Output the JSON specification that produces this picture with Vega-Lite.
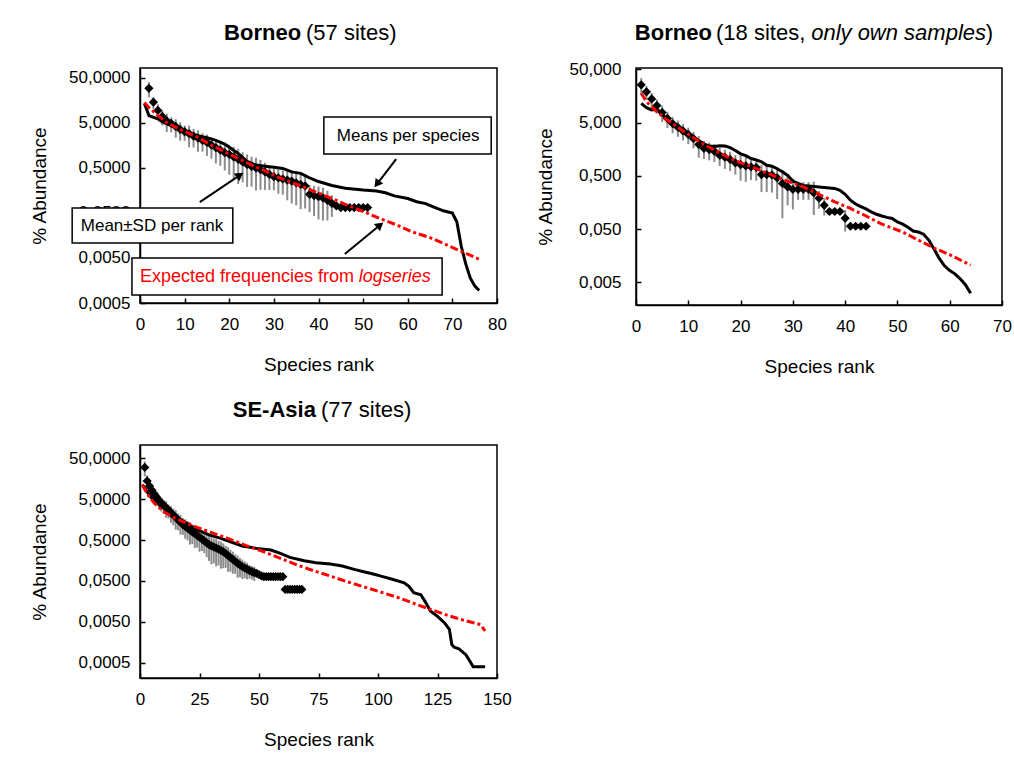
{
  "$schema": "https://vega.github.io/schema/vega-lite/v6.json",
  "autosize": {"type": "none"},
  "padding": {"left": 140, "top": 68, "right": 874, "bottom": 696},
  "background": "white",
  "config": {
    "font": "Liberation Sans",
    "view": {"stroke": "black", "strokeWidth": 1.5},
    "axis": {
      "grid": false,
      "domainColor": "black",
      "domainWidth": 1.5,
      "tickColor": "black",
      "tickWidth": 1.5,
      "tickSize": -5,
      "labelColor": "black",
      "labelFontSize": 17,
      "labelFlush": false,
      "labelOverlap": false,
      "titleColor": "black",
      "titleFontSize": 19,
      "titleFontWeight": "normal"
    },
    "axisX": {"labelPadding": 18, "titlePadding": 23},
    "axisY": {"labelPadding": 15, "titlePadding": 14}
  },
  "datasets": {
    "b57_rank": [
      {"rank": 2, "v": 29.5, "lo": 18.6, "hi": 40.4},
      {"rank": 3, "v": 14.5, "lo": 10.3, "hi": 18.7},
      {"rank": 4, "v": 9.5, "lo": 6.0, "hi": 13.0},
      {"rank": 5, "v": 7.0, "lo": 4.42, "hi": 9.58},
      {"rank": 6, "v": 5.6, "lo": 3.15, "hi": 8.05},
      {"rank": 7, "v": 4.9, "lo": 3.09, "hi": 6.71},
      {"rank": 8, "v": 4.2, "lo": 2.36, "hi": 6.04},
      {"rank": 9, "v": 3.6, "lo": 2.02, "hi": 5.18},
      {"rank": 10, "v": 3.2, "lo": 2.02, "hi": 4.38},
      {"rank": 11, "v": 2.9, "lo": 1.45, "hi": 4.35},
      {"rank": 12, "v": 2.55, "lo": 1.43, "hi": 3.67},
      {"rank": 13, "v": 2.3, "lo": 1.15, "hi": 3.45},
      {"rank": 14, "v": 2.05, "lo": 1.15, "hi": 2.95},
      {"rank": 15, "v": 1.85, "lo": 0.93, "hi": 2.77},
      {"rank": 16, "v": 1.62, "lo": 0.81, "hi": 2.43},
      {"rank": 17, "v": 1.42, "lo": 0.63, "hi": 2.21},
      {"rank": 18, "v": 1.25, "lo": 0.56, "hi": 1.94},
      {"rank": 19, "v": 1.1, "lo": 0.44, "hi": 1.76},
      {"rank": 20, "v": 1.0, "lo": 0.355, "hi": 1.645},
      {"rank": 21, "v": 0.88, "lo": 0.278, "hi": 1.48},
      {"rank": 22, "v": 0.78, "lo": 0.22, "hi": 1.34},
      {"rank": 23, "v": 0.68, "lo": 0.241, "hi": 1.12},
      {"rank": 24, "v": 0.6, "lo": 0.19, "hi": 1.01},
      {"rank": 25, "v": 0.54, "lo": 0.192, "hi": 0.888},
      {"rank": 26, "v": 0.5, "lo": 0.158, "hi": 0.842},
      {"rank": 27, "v": 0.46, "lo": 0.163, "hi": 0.757},
      {"rank": 28, "v": 0.41, "lo": 0.163, "hi": 0.657},
      {"rank": 29, "v": 0.36, "lo": 0.161, "hi": 0.559},
      {"rank": 30, "v": 0.32, "lo": 0.16, "hi": 0.48},
      {"rank": 31, "v": 0.3, "lo": 0.134, "hi": 0.466},
      {"rank": 32, "v": 0.285, "lo": 0.127, "hi": 0.443},
      {"rank": 33, "v": 0.27, "lo": 0.096, "hi": 0.444},
      {"rank": 34, "v": 0.255, "lo": 0.081, "hi": 0.429},
      {"rank": 35, "v": 0.235, "lo": 0.074, "hi": 0.396},
      {"rank": 36, "v": 0.215, "lo": 0.061, "hi": 0.369},
      {"rank": 37, "v": 0.2, "lo": 0.063, "hi": 0.337},
      {"rank": 38, "v": 0.13, "lo": 0.052, "hi": 0.208},
      {"rank": 39, "v": 0.122, "lo": 0.043, "hi": 0.2},
      {"rank": 40, "v": 0.115, "lo": 0.036, "hi": 0.194},
      {"rank": 41, "v": 0.108, "lo": 0.034, "hi": 0.182},
      {"rank": 42, "v": 0.095, "lo": 0.034, "hi": 0.156},
      {"rank": 43, "v": 0.082, "lo": 0.041, "hi": 0.123},
      {"rank": 44, "v": 0.072, "lo": 0.072, "hi": 0.072},
      {"rank": 45, "v": 0.066, "lo": 0.066, "hi": 0.066},
      {"rank": 46, "v": 0.066, "lo": 0.066, "hi": 0.066},
      {"rank": 47, "v": 0.066, "lo": 0.066, "hi": 0.066},
      {"rank": 48, "v": 0.066, "lo": 0.066, "hi": 0.066},
      {"rank": 49, "v": 0.066, "lo": 0.066, "hi": 0.066},
      {"rank": 50, "v": 0.066, "lo": 0.066, "hi": 0.066},
      {"rank": 51, "v": 0.066, "lo": 0.066, "hi": 0.066}
    ],
    "b57_species": [
      {"rank": 1, "v": 13.5}, {"rank": 2, "v": 7.3}, {"rank": 3, "v": 6.7}, {"rank": 4, "v": 6.2},
      {"rank": 5, "v": 5.3}, {"rank": 7, "v": 4.4}, {"rank": 9, "v": 3.6}, {"rank": 11, "v": 3.0},
      {"rank": 13, "v": 2.6}, {"rank": 15, "v": 2.36}, {"rank": 17, "v": 2.05}, {"rank": 19, "v": 1.7},
      {"rank": 20, "v": 1.45}, {"rank": 22, "v": 1.05}, {"rank": 24, "v": 0.7}, {"rank": 26, "v": 0.58},
      {"rank": 28, "v": 0.55}, {"rank": 30, "v": 0.52}, {"rank": 32, "v": 0.49}, {"rank": 34, "v": 0.41},
      {"rank": 36, "v": 0.38}, {"rank": 37, "v": 0.34}, {"rank": 38, "v": 0.3}, {"rank": 40, "v": 0.25},
      {"rank": 43, "v": 0.205}, {"rank": 46, "v": 0.177}, {"rank": 50, "v": 0.162}, {"rank": 53, "v": 0.154},
      {"rank": 55, "v": 0.141}, {"rank": 57, "v": 0.12}, {"rank": 60, "v": 0.105}, {"rank": 62, "v": 0.089},
      {"rank": 64, "v": 0.081}, {"rank": 66, "v": 0.067}, {"rank": 68, "v": 0.056}, {"rank": 70, "v": 0.05},
      {"rank": 71, "v": 0.032}, {"rank": 72, "v": 0.009}, {"rank": 73, "v": 0.0037}, {"rank": 74, "v": 0.0018},
      {"rank": 75, "v": 0.0012}, {"rank": 76, "v": 0.00095}
    ],
    "b57_logseries": [
      {"rank": 1, "v": 14.2}, {"rank": 2, "v": 11.0}, {"rank": 4, "v": 7.4}, {"rank": 6, "v": 5.1},
      {"rank": 9, "v": 3.6}, {"rank": 13, "v": 2.4}, {"rank": 16, "v": 1.6}, {"rank": 20, "v": 1.02},
      {"rank": 24, "v": 0.65}, {"rank": 28, "v": 0.43}, {"rank": 31, "v": 0.31}, {"rank": 35, "v": 0.22},
      {"rank": 39, "v": 0.152}, {"rank": 43, "v": 0.105}, {"rank": 46, "v": 0.078}, {"rank": 50, "v": 0.054},
      {"rank": 54, "v": 0.037}, {"rank": 58, "v": 0.026}, {"rank": 61, "v": 0.019}, {"rank": 65, "v": 0.0142},
      {"rank": 69, "v": 0.0095}, {"rank": 72, "v": 0.007}, {"rank": 76, "v": 0.0047}
    ],
    "b18_rank": [
      {"rank": 1, "v": 25.7, "lo": 17.0, "hi": 34.4},
      {"rank": 2, "v": 19, "lo": 13.5, "hi": 24.5},
      {"rank": 3, "v": 14, "lo": 9.9, "hi": 18.1},
      {"rank": 4, "v": 10.5, "lo": 7.4, "hi": 13.6},
      {"rank": 5, "v": 7.8, "lo": 5.16, "hi": 10.4},
      {"rank": 6, "v": 6.0, "lo": 3.97, "hi": 8.03},
      {"rank": 7, "v": 4.8, "lo": 3.17, "hi": 6.43},
      {"rank": 8, "v": 4.1, "lo": 2.71, "hi": 5.49},
      {"rank": 9, "v": 3.5, "lo": 2.31, "hi": 4.69},
      {"rank": 10, "v": 3.0, "lo": 1.98, "hi": 4.02},
      {"rank": 11, "v": 2.5, "lo": 1.65, "hi": 3.35},
      {"rank": 12, "v": 1.95, "lo": 1.1, "hi": 2.8},
      {"rank": 13, "v": 1.65, "lo": 1.04, "hi": 2.26},
      {"rank": 14, "v": 1.55, "lo": 0.98, "hi": 2.12},
      {"rank": 15, "v": 1.45, "lo": 0.91, "hi": 1.99},
      {"rank": 16, "v": 1.22, "lo": 0.77, "hi": 1.67},
      {"rank": 17, "v": 1.12, "lo": 0.675, "hi": 1.56},
      {"rank": 18, "v": 1.02, "lo": 0.615, "hi": 1.42},
      {"rank": 19, "v": 0.88, "lo": 0.53, "hi": 1.23},
      {"rank": 20, "v": 0.81, "lo": 0.406, "hi": 1.21},
      {"rank": 21, "v": 0.77, "lo": 0.386, "hi": 1.15},
      {"rank": 22, "v": 0.74, "lo": 0.416, "hi": 1.06},
      {"rank": 23, "v": 0.72, "lo": 0.405, "hi": 1.04},
      {"rank": 24, "v": 0.53, "lo": 0.248, "hi": 0.812},
      {"rank": 25, "v": 0.53, "lo": 0.248, "hi": 0.812},
      {"rank": 26, "v": 0.52, "lo": 0.243, "hi": 0.797},
      {"rank": 27, "v": 0.46, "lo": 0.183, "hi": 0.737},
      {"rank": 28, "v": 0.36, "lo": 0.08, "hi": 0.64},
      {"rank": 29, "v": 0.31, "lo": 0.139, "hi": 0.481},
      {"rank": 30, "v": 0.28, "lo": 0.117, "hi": 0.44},
      {"rank": 31, "v": 0.28, "lo": 0.177, "hi": 0.383},
      {"rank": 32, "v": 0.28, "lo": 0.177, "hi": 0.383},
      {"rank": 33, "v": 0.28, "lo": 0.177, "hi": 0.383},
      {"rank": 34, "v": 0.24, "lo": 0.092, "hi": 0.39},
      {"rank": 35, "v": 0.19, "lo": 0.12, "hi": 0.26},
      {"rank": 36, "v": 0.14, "lo": 0.09, "hi": 0.19},
      {"rank": 37, "v": 0.107, "lo": 0.107, "hi": 0.107},
      {"rank": 38, "v": 0.107, "lo": 0.107, "hi": 0.107},
      {"rank": 39, "v": 0.107, "lo": 0.107, "hi": 0.107},
      {"rank": 40, "v": 0.08, "lo": 0.045, "hi": 0.115},
      {"rank": 41, "v": 0.0565, "lo": 0.0565, "hi": 0.0565},
      {"rank": 42, "v": 0.0565, "lo": 0.0565, "hi": 0.0565},
      {"rank": 43, "v": 0.0565, "lo": 0.0565, "hi": 0.0565},
      {"rank": 44, "v": 0.0565, "lo": 0.0565, "hi": 0.0565}
    ],
    "b18_species": [
      {"rank": 1, "v": 11.5}, {"rank": 2, "v": 9.6}, {"rank": 3, "v": 8.7}, {"rank": 4, "v": 8.9},
      {"rank": 5, "v": 7.4}, {"rank": 6, "v": 5.5}, {"rank": 7, "v": 4.6}, {"rank": 8, "v": 3.9},
      {"rank": 9, "v": 3.5}, {"rank": 10, "v": 3.15}, {"rank": 11, "v": 2.7}, {"rank": 12, "v": 2.3},
      {"rank": 13, "v": 2.0}, {"rank": 14, "v": 1.82}, {"rank": 15, "v": 1.78}, {"rank": 16, "v": 1.84},
      {"rank": 17, "v": 1.82}, {"rank": 18, "v": 1.7}, {"rank": 19, "v": 1.5}, {"rank": 20, "v": 1.3},
      {"rank": 21, "v": 1.2}, {"rank": 22, "v": 1.06}, {"rank": 23, "v": 1.0}, {"rank": 24, "v": 0.92},
      {"rank": 25, "v": 0.79}, {"rank": 26, "v": 0.76}, {"rank": 27, "v": 0.68}, {"rank": 28, "v": 0.6},
      {"rank": 29, "v": 0.51}, {"rank": 30, "v": 0.4}, {"rank": 31, "v": 0.36}, {"rank": 32, "v": 0.33},
      {"rank": 34, "v": 0.317}, {"rank": 36, "v": 0.303}, {"rank": 38, "v": 0.29}, {"rank": 39, "v": 0.267},
      {"rank": 40, "v": 0.225}, {"rank": 41, "v": 0.175}, {"rank": 42, "v": 0.148}, {"rank": 43, "v": 0.132},
      {"rank": 44, "v": 0.12}, {"rank": 45, "v": 0.105}, {"rank": 46, "v": 0.095}, {"rank": 47, "v": 0.088},
      {"rank": 48, "v": 0.083}, {"rank": 49, "v": 0.079}, {"rank": 50, "v": 0.068}, {"rank": 51, "v": 0.062},
      {"rank": 52, "v": 0.054}, {"rank": 53, "v": 0.046}, {"rank": 54, "v": 0.044}, {"rank": 55, "v": 0.04},
      {"rank": 56, "v": 0.031}, {"rank": 57, "v": 0.021}, {"rank": 58, "v": 0.014}, {"rank": 59, "v": 0.0102},
      {"rank": 60, "v": 0.0083}, {"rank": 61, "v": 0.0072}, {"rank": 62, "v": 0.0058}, {"rank": 63, "v": 0.0045},
      {"rank": 64, "v": 0.0031}
    ],
    "b18_logseries": [
      {"rank": 1, "v": 17.9}, {"rank": 2, "v": 12.4}, {"rank": 4, "v": 8.0}, {"rank": 6, "v": 5.6},
      {"rank": 9, "v": 3.5}, {"rank": 13, "v": 1.95}, {"rank": 16, "v": 1.35}, {"rank": 19, "v": 0.96},
      {"rank": 22, "v": 0.75}, {"rank": 25, "v": 0.57}, {"rank": 28, "v": 0.43}, {"rank": 32, "v": 0.31},
      {"rank": 35, "v": 0.225}, {"rank": 38, "v": 0.163}, {"rank": 41, "v": 0.122}, {"rank": 44, "v": 0.088},
      {"rank": 47, "v": 0.062}, {"rank": 51, "v": 0.044}, {"rank": 54, "v": 0.031}, {"rank": 57, "v": 0.022},
      {"rank": 60, "v": 0.0165}, {"rank": 64, "v": 0.0105}
    ],
    "se_rank": [
      {"rank": 2, "v": 30, "lo": 18, "hi": 42},
      {"rank": 3, "v": 14, "lo": 8.8, "hi": 19.2},
      {"rank": 4, "v": 10.5, "lo": 6.6, "hi": 14.4},
      {"rank": 5, "v": 8.3, "lo": 5.2, "hi": 11.4},
      {"rank": 6, "v": 6.7, "lo": 4.2, "hi": 9.2},
      {"rank": 7, "v": 5.6, "lo": 3.5, "hi": 7.7},
      {"rank": 8, "v": 4.7, "lo": 3.0, "hi": 6.4},
      {"rank": 9, "v": 4.0, "lo": 2.5, "hi": 5.5},
      {"rank": 10, "v": 3.5, "lo": 2.2, "hi": 4.8},
      {"rank": 11, "v": 3.1, "lo": 1.74, "hi": 4.46},
      {"rank": 12, "v": 2.7, "lo": 1.7, "hi": 3.7},
      {"rank": 13, "v": 2.35, "lo": 1.32, "hi": 3.38},
      {"rank": 14, "v": 2.05, "lo": 1.15, "hi": 2.95},
      {"rank": 15, "v": 1.8, "lo": 0.9, "hi": 2.7},
      {"rank": 16, "v": 1.55, "lo": 0.87, "hi": 2.23},
      {"rank": 17, "v": 1.38, "lo": 0.69, "hi": 2.07},
      {"rank": 18, "v": 1.2, "lo": 0.67, "hi": 1.73},
      {"rank": 19, "v": 1.08, "lo": 0.54, "hi": 1.62},
      {"rank": 20, "v": 0.97, "lo": 0.49, "hi": 1.45},
      {"rank": 21, "v": 0.88, "lo": 0.39, "hi": 1.37},
      {"rank": 22, "v": 0.8, "lo": 0.4, "hi": 1.2},
      {"rank": 23, "v": 0.72, "lo": 0.32, "hi": 1.12},
      {"rank": 24, "v": 0.65, "lo": 0.33, "hi": 0.97},
      {"rank": 25, "v": 0.59, "lo": 0.26, "hi": 0.92},
      {"rank": 26, "v": 0.53, "lo": 0.27, "hi": 0.79},
      {"rank": 27, "v": 0.48, "lo": 0.24, "hi": 0.72},
      {"rank": 28, "v": 0.43, "lo": 0.19, "hi": 0.67},
      {"rank": 29, "v": 0.39, "lo": 0.155, "hi": 0.625},
      {"rank": 30, "v": 0.36, "lo": 0.128, "hi": 0.592},
      {"rank": 31, "v": 0.34, "lo": 0.135, "hi": 0.545},
      {"rank": 32, "v": 0.32, "lo": 0.114, "hi": 0.526},
      {"rank": 33, "v": 0.3, "lo": 0.12, "hi": 0.48},
      {"rank": 34, "v": 0.28, "lo": 0.1, "hi": 0.46},
      {"rank": 35, "v": 0.26, "lo": 0.103, "hi": 0.417},
      {"rank": 36, "v": 0.235, "lo": 0.105, "hi": 0.365},
      {"rank": 37, "v": 0.21, "lo": 0.084, "hi": 0.336},
      {"rank": 38, "v": 0.187, "lo": 0.084, "hi": 0.29},
      {"rank": 39, "v": 0.168, "lo": 0.075, "hi": 0.261},
      {"rank": 40, "v": 0.15, "lo": 0.075, "hi": 0.225},
      {"rank": 41, "v": 0.135, "lo": 0.06, "hi": 0.21},
      {"rank": 42, "v": 0.123, "lo": 0.062, "hi": 0.184},
      {"rank": 43, "v": 0.112, "lo": 0.056, "hi": 0.168},
      {"rank": 44, "v": 0.104, "lo": 0.058, "hi": 0.15},
      {"rank": 45, "v": 0.097, "lo": 0.055, "hi": 0.139},
      {"rank": 46, "v": 0.09, "lo": 0.057, "hi": 0.123},
      {"rank": 47, "v": 0.085, "lo": 0.054, "hi": 0.116},
      {"rank": 48, "v": 0.08, "lo": 0.05, "hi": 0.11},
      {"rank": 49, "v": 0.077, "lo": 0.077, "hi": 0.077},
      {"rank": 50, "v": 0.072, "lo": 0.072, "hi": 0.072},
      {"rank": 51, "v": 0.067, "lo": 0.067, "hi": 0.067},
      {"rank": 52, "v": 0.0636, "lo": 0.0636, "hi": 0.0636},
      {"rank": 53, "v": 0.0636, "lo": 0.0636, "hi": 0.0636},
      {"rank": 54, "v": 0.0636, "lo": 0.0636, "hi": 0.0636},
      {"rank": 55, "v": 0.0636, "lo": 0.0636, "hi": 0.0636},
      {"rank": 56, "v": 0.0636, "lo": 0.0636, "hi": 0.0636},
      {"rank": 57, "v": 0.0636, "lo": 0.0636, "hi": 0.0636},
      {"rank": 58, "v": 0.0636, "lo": 0.0636, "hi": 0.0636},
      {"rank": 59, "v": 0.0636, "lo": 0.0636, "hi": 0.0636},
      {"rank": 60, "v": 0.0636, "lo": 0.0636, "hi": 0.0636},
      {"rank": 61, "v": 0.031, "lo": 0.031, "hi": 0.031},
      {"rank": 62, "v": 0.031, "lo": 0.031, "hi": 0.031},
      {"rank": 63, "v": 0.031, "lo": 0.031, "hi": 0.031},
      {"rank": 64, "v": 0.031, "lo": 0.031, "hi": 0.031},
      {"rank": 65, "v": 0.031, "lo": 0.031, "hi": 0.031},
      {"rank": 66, "v": 0.031, "lo": 0.031, "hi": 0.031},
      {"rank": 67, "v": 0.031, "lo": 0.031, "hi": 0.031},
      {"rank": 68, "v": 0.031, "lo": 0.031, "hi": 0.031}
    ],
    "se_species": [
      {"rank": 1, "v": 11.5}, {"rank": 3, "v": 7.5}, {"rank": 5, "v": 5.2}, {"rank": 8, "v": 3.7},
      {"rank": 11, "v": 2.75}, {"rank": 14, "v": 2.05}, {"rank": 17, "v": 1.6}, {"rank": 20, "v": 1.26},
      {"rank": 22, "v": 1.05}, {"rank": 25, "v": 0.85}, {"rank": 29, "v": 0.67}, {"rank": 34, "v": 0.55},
      {"rank": 38, "v": 0.455}, {"rank": 43, "v": 0.36}, {"rank": 49, "v": 0.314}, {"rank": 55, "v": 0.285},
      {"rank": 59, "v": 0.237}, {"rank": 63, "v": 0.189}, {"rank": 69, "v": 0.157}, {"rank": 74, "v": 0.14},
      {"rank": 80, "v": 0.13}, {"rank": 85, "v": 0.116}, {"rank": 90, "v": 0.096}, {"rank": 94, "v": 0.084},
      {"rank": 98, "v": 0.074}, {"rank": 102, "v": 0.064}, {"rank": 106, "v": 0.055}, {"rank": 111, "v": 0.045},
      {"rank": 113, "v": 0.037}, {"rank": 115, "v": 0.026}, {"rank": 118, "v": 0.023}, {"rank": 120, "v": 0.015},
      {"rank": 122, "v": 0.0092}, {"rank": 125, "v": 0.0068}, {"rank": 128, "v": 0.0047}, {"rank": 130, "v": 0.0033},
      {"rank": 131, "v": 0.0014}, {"rank": 132, "v": 0.0012}, {"rank": 134, "v": 0.0011}, {"rank": 137, "v": 0.00078},
      {"rank": 139, "v": 0.0005}, {"rank": 140, "v": 0.0004}, {"rank": 145, "v": 0.0004}
    ],
    "se_logseries": [
      {"rank": 1, "v": 11.1}, {"rank": 3, "v": 6.8}, {"rank": 6, "v": 4.0}, {"rank": 10, "v": 2.45},
      {"rank": 14, "v": 1.8}, {"rank": 18, "v": 1.42}, {"rank": 24, "v": 1.02}, {"rank": 31, "v": 0.73},
      {"rank": 38, "v": 0.52}, {"rank": 45, "v": 0.36}, {"rank": 52, "v": 0.26}, {"rank": 59, "v": 0.179},
      {"rank": 66, "v": 0.123}, {"rank": 73, "v": 0.089}, {"rank": 80, "v": 0.066}, {"rank": 87, "v": 0.048},
      {"rank": 94, "v": 0.036}, {"rank": 101, "v": 0.027}, {"rank": 108, "v": 0.02}, {"rank": 115, "v": 0.0142},
      {"rank": 122, "v": 0.0101}, {"rank": 129, "v": 0.0073}, {"rank": 136, "v": 0.0055}, {"rank": 141, "v": 0.0046},
      {"rank": 143, "v": 0.0043}, {"rank": 145, "v": 0.003}
    ],
    "notes_b57": [
      {"part": "box", "x": 41.2, "x2": 78.7, "y": 6.78, "y2": 1.02},
      {"part": "box", "x": -15.2, "x2": 20.8, "y": 0.0644, "y2": 0.01074},
      {"part": "box", "x": -1.8, "x2": 67.7, "y": 0.00499, "y2": 0.00075},
      {"part": "label", "x": 60.1, "y": 2.56, "text": "Means per species"},
      {"part": "label", "x": 2.7, "y": 0.02564, "text": "Mean±SD per rank"},
      {"part": "red", "x": 0, "y": 0.00188, "text": "Expected frequencies from "},
      {"part": "red-italic", "x": 49.0, "y": 0.00188, "text": "logseries"},
      {"part": "arrow-species", "x": 57.4, "y": 0.79, "x2": 53.1, "y2": 0.22},
      {"part": "arrow-rank", "x": 13.4, "y": 0.0875, "x2": 22.4, "y2": 0.348},
      {"part": "arrow-logseries", "x": 45.9, "y": 0.00612, "x2": 53.8, "y2": 0.027},
      {"part": "title-bold", "x": 36.1, "y": 500, "text": "Borneo"},
      {"part": "title", "x": 37.2, "y": 500, "text": "(57 sites)"}
    ],
    "notes_b18": [
      {"part": "title-bold", "x": 14.5, "y": 243, "text": "Borneo"},
      {"part": "title", "x": 15.3, "y": 243, "text": "(18 sites,"},
      {"part": "title-italic", "x": 33.5, "y": 243, "text": "only own samples"},
      {"part": "title", "x": 66.9, "y": 243, "text": ")"}
    ],
    "notes_se": [
      {"part": "title-bold", "x": 73.9, "y": 761, "text": "SE-Asia"},
      {"part": "title", "x": 76.0, "y": 761, "text": "(77 sites)"}
    ]
  },
  "columns": 2,
  "spacing": {"row": 140, "column": 139},
  "bounds": "flush",
  "concat": [
    {
      "width": 357,
      "height": 235,
      "encoding": {
        "x": {"field": "rank", "type": "quantitative", "title": "Species rank",
              "scale": {"domain": [0, 80], "nice": false, "zero": false},
              "axis": {"values": [0, 10, 20, 30, 40, 50, 60, 70, 80]}},
        "y": {"field": "v", "type": "quantitative", "title": "% Abundance",
              "scale": {"type": "log", "domain": [0.0005, 83.4], "nice": false},
              "axis": {"values": [0.0005, 0.005, 0.05, 0.5, 5, 50], "titlePadding": 19,
                       "labelExpr": "replace(format(datum.value, '.4f'), '.', ',')"}}
      },
      "layer": [
        {"data": {"name": "b57_rank"},
         "mark": {"type": "rule", "color": "#8c8c8c", "strokeWidth": 2},
         "encoding": {"y": {"field": "lo", "type": "quantitative", "title": "% Abundance"}, "y2": {"field": "hi"}}},
        {"data": {"name": "b57_rank"},
         "mark": {"type": "point", "shape": "diamond", "filled": true, "color": "black", "opacity": 1, "size": 85}},
        {"data": {"name": "b57_species"},
         "mark": {"type": "line", "color": "black", "strokeWidth": 3}},
        {"data": {"name": "b57_logseries"},
         "mark": {"type": "line", "color": "#ff0000", "strokeWidth": 3, "strokeDash": [8, 3, 3, 3]}},
        {"data": {"name": "notes_b57"},
         "transform": [{"filter": "datum.part === 'box'"}],
         "mark": {"type": "rect", "fill": "white", "stroke": "black", "strokeWidth": 1.5},
         "encoding": {"x": {"field": "x", "type": "quantitative", "title": "Species rank"}, "x2": {"field": "x2"},
                      "y": {"field": "y", "type": "quantitative", "title": "% Abundance"}, "y2": {"field": "y2"}}},
        {"data": {"name": "notes_b57"},
         "transform": [{"filter": "datum.part === 'label'"}],
         "mark": {"type": "text", "align": "center", "baseline": "middle", "fontSize": 17, "color": "black"},
         "encoding": {"x": {"field": "x", "type": "quantitative", "title": "Species rank"},
                      "y": {"field": "y", "type": "quantitative", "title": "% Abundance"},
                      "text": {"field": "text"}}},
        {"data": {"name": "notes_b57"},
         "transform": [{"filter": "datum.part === 'red'"}],
         "mark": {"type": "text", "align": "left", "baseline": "middle", "fontSize": 18, "color": "#ff0000"},
         "encoding": {"x": {"field": "x", "type": "quantitative", "title": "Species rank"},
                      "y": {"field": "y", "type": "quantitative", "title": "% Abundance"},
                      "text": {"field": "text"}}},
        {"data": {"name": "notes_b57"},
         "transform": [{"filter": "datum.part === 'red-italic'"}],
         "mark": {"type": "text", "align": "left", "baseline": "middle", "fontSize": 18, "fontStyle": "italic", "color": "#ff0000"},
         "encoding": {"x": {"field": "x", "type": "quantitative", "title": "Species rank"},
                      "y": {"field": "y", "type": "quantitative", "title": "% Abundance"},
                      "text": {"field": "text"}}},
        {"data": {"name": "notes_b57"},
         "transform": [{"filter": "indexof(datum.part, 'arrow') === 0"}],
         "mark": {"type": "rule", "color": "black", "strokeWidth": 2},
         "encoding": {"x": {"field": "x", "type": "quantitative", "title": "Species rank"}, "x2": {"field": "x2"},
                      "y": {"field": "y", "type": "quantitative", "title": "% Abundance"}, "y2": {"field": "y2"}}},
        {"data": {"name": "notes_b57"},
         "transform": [{"filter": "datum.part === 'arrow-species'"}],
         "mark": {"type": "point", "shape": "triangle-up", "filled": true, "color": "black", "opacity": 1, "size": 90, "angle": 217},
         "encoding": {"x": {"field": "x2", "type": "quantitative", "title": "Species rank"},
                      "y": {"field": "y2", "type": "quantitative", "title": "% Abundance"}}},
        {"data": {"name": "notes_b57"},
         "transform": [{"filter": "datum.part === 'arrow-rank'"}],
         "mark": {"type": "point", "shape": "triangle-up", "filled": true, "color": "black", "opacity": 1, "size": 90, "angle": 56},
         "encoding": {"x": {"field": "x2", "type": "quantitative", "title": "Species rank"},
                      "y": {"field": "y2", "type": "quantitative", "title": "% Abundance"}}},
        {"data": {"name": "notes_b57"},
         "transform": [{"filter": "datum.part === 'arrow-logseries'"}],
         "mark": {"type": "point", "shape": "triangle-up", "filled": true, "color": "black", "opacity": 1, "size": 90, "angle": 50},
         "encoding": {"x": {"field": "x2", "type": "quantitative", "title": "Species rank"},
                      "y": {"field": "y2", "type": "quantitative", "title": "% Abundance"}}},
        {"data": {"name": "notes_b57"},
         "transform": [{"filter": "datum.part === 'title-bold'"}],
         "mark": {"type": "text", "align": "right", "baseline": "middle", "fontSize": 22, "fontWeight": "bold", "color": "black"},
         "encoding": {"x": {"field": "x", "type": "quantitative", "title": "Species rank"},
                      "y": {"field": "y", "type": "quantitative", "title": "% Abundance"},
                      "text": {"field": "text"}}},
        {"data": {"name": "notes_b57"},
         "transform": [{"filter": "datum.part === 'title'"}],
         "mark": {"type": "text", "align": "left", "baseline": "middle", "fontSize": 22, "color": "black"},
         "encoding": {"x": {"field": "x", "type": "quantitative", "title": "Species rank"},
                      "y": {"field": "y", "type": "quantitative", "title": "% Abundance"},
                      "text": {"field": "text"}}}
      ]
    },
    {
      "width": 366,
      "height": 237,
      "encoding": {
        "x": {"field": "rank", "type": "quantitative", "title": "Species rank",
              "scale": {"domain": [0, 70], "nice": false, "zero": false},
              "axis": {"values": [0, 10, 20, 30, 40, 50, 60, 70]}},
        "y": {"field": "v", "type": "quantitative", "title": "% Abundance",
              "scale": {"type": "log", "domain": [0.00187, 53.3], "nice": false},
              "axis": {"values": [0.005, 0.05, 0.5, 5, 50], "labelPadding": 20,
                       "labelExpr": "replace(format(datum.value, '.3f'), '.', ',')"}}
      },
      "layer": [
        {"data": {"name": "b18_rank"},
         "mark": {"type": "rule", "color": "#8c8c8c", "strokeWidth": 2},
         "encoding": {"y": {"field": "lo", "type": "quantitative", "title": "% Abundance"}, "y2": {"field": "hi"}}},
        {"data": {"name": "b18_rank"},
         "mark": {"type": "point", "shape": "diamond", "filled": true, "color": "black", "opacity": 1, "size": 85}},
        {"data": {"name": "b18_species"},
         "mark": {"type": "line", "color": "black", "strokeWidth": 3}},
        {"data": {"name": "b18_logseries"},
         "mark": {"type": "line", "color": "#ff0000", "strokeWidth": 3, "strokeDash": [8, 3, 3, 3]}},
        {"data": {"name": "notes_b18"},
         "transform": [{"filter": "datum.part === 'title-bold'"}],
         "mark": {"type": "text", "align": "right", "baseline": "middle", "fontSize": 22, "fontWeight": "bold", "color": "black"},
         "encoding": {"x": {"field": "x", "type": "quantitative", "title": "Species rank"},
                      "y": {"field": "y", "type": "quantitative", "title": "% Abundance"},
                      "text": {"field": "text"}}},
        {"data": {"name": "notes_b18"},
         "transform": [{"filter": "datum.part === 'title'"}],
         "mark": {"type": "text", "align": "left", "baseline": "middle", "fontSize": 22, "color": "black"},
         "encoding": {"x": {"field": "x", "type": "quantitative", "title": "Species rank"},
                      "y": {"field": "y", "type": "quantitative", "title": "% Abundance"},
                      "text": {"field": "text"}}},
        {"data": {"name": "notes_b18"},
         "transform": [{"filter": "datum.part === 'title-italic'"}],
         "mark": {"type": "text", "align": "left", "baseline": "middle", "fontSize": 22, "fontStyle": "italic", "color": "black"},
         "encoding": {"x": {"field": "x", "type": "quantitative", "title": "Species rank"},
                      "y": {"field": "y", "type": "quantitative", "title": "% Abundance"},
                      "text": {"field": "text"}}}
      ]
    },
    {
      "width": 357,
      "height": 233,
      "encoding": {
        "x": {"field": "rank", "type": "quantitative", "title": "Species rank",
              "scale": {"domain": [0, 150], "nice": false, "zero": false},
              "axis": {"values": [0, 25, 50, 75, 100, 125, 150]}},
        "y": {"field": "v", "type": "quantitative", "title": "% Abundance",
              "scale": {"type": "log", "domain": [0.000212, 106], "nice": false},
              "axis": {"values": [0.0005, 0.005, 0.05, 0.5, 5, 50], "titlePadding": 19,
                       "labelExpr": "replace(format(datum.value, '.4f'), '.', ',')"}}
      },
      "layer": [
        {"data": {"name": "se_rank"},
         "mark": {"type": "rule", "color": "#8c8c8c", "strokeWidth": 2},
         "encoding": {"y": {"field": "lo", "type": "quantitative", "title": "% Abundance"}, "y2": {"field": "hi"}}},
        {"data": {"name": "se_rank"},
         "mark": {"type": "point", "shape": "diamond", "filled": true, "color": "black", "opacity": 1, "size": 85}},
        {"data": {"name": "se_species"},
         "mark": {"type": "line", "color": "black", "strokeWidth": 3}},
        {"data": {"name": "se_logseries"},
         "mark": {"type": "line", "color": "#ff0000", "strokeWidth": 3, "strokeDash": [8, 3, 3, 3]}},
        {"data": {"name": "notes_se"},
         "transform": [{"filter": "datum.part === 'title-bold'"}],
         "mark": {"type": "text", "align": "right", "baseline": "middle", "fontSize": 22, "fontWeight": "bold", "color": "black"},
         "encoding": {"x": {"field": "x", "type": "quantitative", "title": "Species rank"},
                      "y": {"field": "y", "type": "quantitative", "title": "% Abundance"},
                      "text": {"field": "text"}}},
        {"data": {"name": "notes_se"},
         "transform": [{"filter": "datum.part === 'title'"}],
         "mark": {"type": "text", "align": "left", "baseline": "middle", "fontSize": 22, "color": "black"},
         "encoding": {"x": {"field": "x", "type": "quantitative", "title": "Species rank"},
                      "y": {"field": "y", "type": "quantitative", "title": "% Abundance"},
                      "text": {"field": "text"}}}
      ]
    }
  ]
}
